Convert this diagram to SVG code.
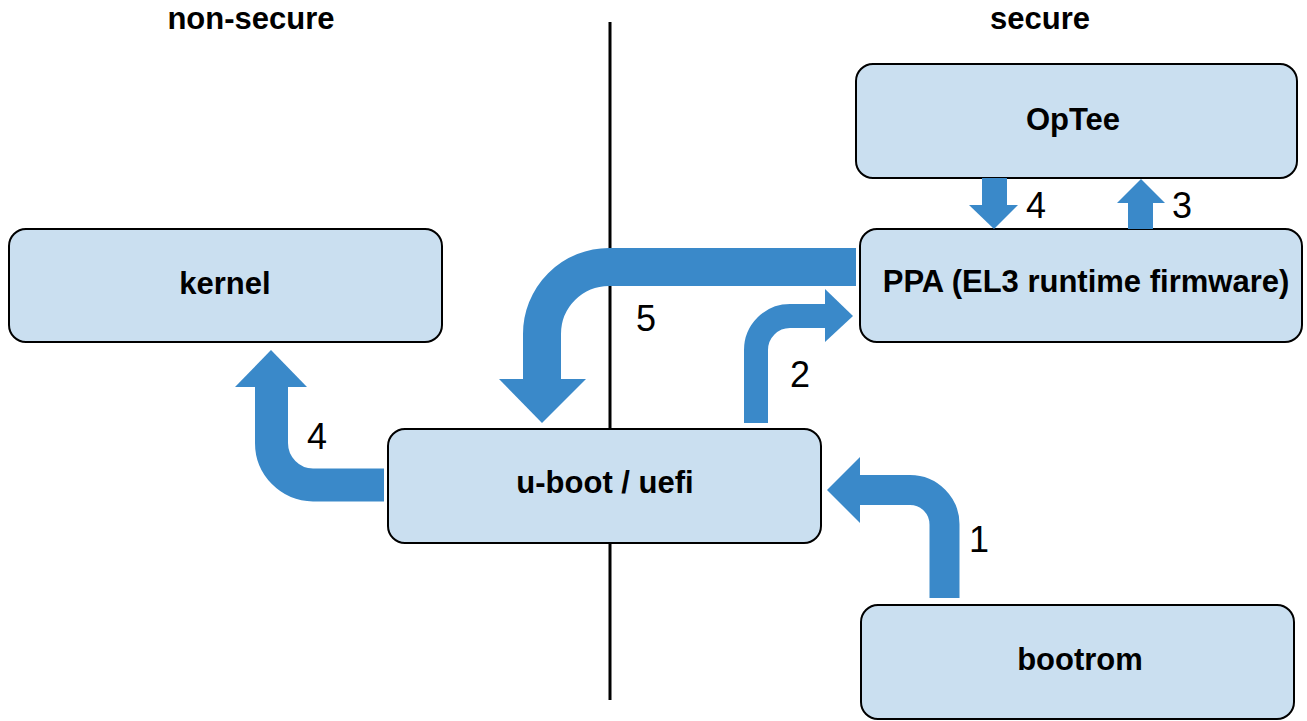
<svg xmlns="http://www.w3.org/2000/svg" width="1307" height="721" viewBox="0 0 1307 721">
<style>
.box{fill:#cadff0;stroke:#000;stroke-width:2}
.lbl{font-family:"Liberation Sans",Arial,sans-serif;font-weight:bold;font-size:31px;fill:#000;text-anchor:middle}
.num{font-family:"Liberation Sans",Arial,sans-serif;font-size:36px;fill:#000;text-anchor:middle}
.band{fill:none;stroke:#3a89c9}
.head{fill:#3a89c9}
</style>
<rect width="1307" height="721" fill="#fff"/>
<text class="lbl" x="251" y="29">non-secure</text>
<text class="lbl" x="1040" y="29">secure</text>
<line x1="610" y1="22" x2="610" y2="700" stroke="#000" stroke-width="3"/>
<g id="optee"><rect class="box" x="856" y="64" width="441" height="114" rx="17"/><text class="lbl" x="1073" y="130">OpTee</text></g>
<g id="kernel"><rect class="box" x="9" y="229" width="433" height="113" rx="17"/><text class="lbl" x="225" y="294">kernel</text></g>
<g id="ppa"><rect class="box" x="860" y="229" width="442" height="113" rx="17"/><text class="lbl" x="1086" y="292">PPA (EL3 runtime firmware)</text></g>
<g id="uboot"><rect class="box" x="388" y="429" width="433" height="114" rx="17"/><text class="lbl" x="605" y="493">u-boot / uefi</text></g>
<g id="bootrom"><rect class="box" x="861" y="605" width="433" height="114" rx="17"/><text class="lbl" x="1080" y="670">bootrom</text></g>
<g id="connectors">
<path class="band" stroke-width="38" d="M 856 267 L 609 267 A 67 67 0 0 0 542 334 L 542 380"/>
<polygon class="head" points="499,379 586,379 542,423"/>
<path class="band" stroke-width="24" d="M 756 423 L 756 350 A 34 34 0 0 1 790 316 L 826 316"/>
<polygon class="head" points="825,289 825,342 853,316"/>
<path class="band" stroke-width="33" d="M 384 485 L 313 485 A 42 42 0 0 1 271.5 443 L 271.5 386"/>
<polygon class="head" points="235,387 307,387 271,350"/>
<path class="band" stroke-width="30" d="M 944.5 598 L 944.5 525 A 34.5 34.5 0 0 0 910 490 L 859 490"/>
<polygon class="head" points="860,457 860,523 827,490"/>
<rect class="head" x="982" y="178" width="25" height="28"/>
<polygon class="head" points="969,205 1018,205 994,229"/>
<rect class="head" x="1128" y="202" width="25" height="27"/>
<polygon class="head" points="1117,203 1165,203 1141,179"/>
</g>
<text class="num" x="646" y="331">5</text>
<text class="num" x="800" y="387">2</text>
<text class="num" x="317" y="449">4</text>
<text class="num" x="979" y="552">1</text>
<text class="num" x="1036" y="218">4</text>
<text class="num" x="1182" y="218">3</text>
</svg>
